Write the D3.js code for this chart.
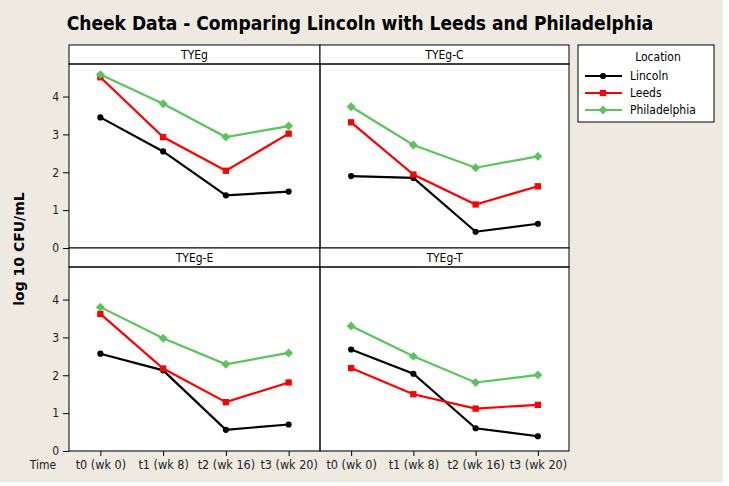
<!DOCTYPE html>
<html><head><meta charset="utf-8">
<script src="https://cdn.jsdelivr.net/npm/d3@7"></script>
<style>body{margin:0;background:#fff}svg{display:block}</style>
</head><body>
<svg id="chart" width="729" height="486"></svg>
<script>
const times = ["t0 (wk 0)", "t1 (wk 8)", "t2 (wk 16)", "t3 (wk 20)"];
const panels = ["TYEg", "TYEg-C", "TYEg-E", "TYEg-T"];
const locations = ["Lincoln", "Leeds", "Philadelphia"];
const colors = ["#000000", "#ff0000", "#5cc45c"];
const yTicks = [0, 1, 2, 3, 4];
// values per panel, per location, per time
const lincoln = [[3.45, 2.55, 1.39, 1.49], [1.90, 1.85, 0.43, 0.64], [2.57, 2.13, 0.56, 0.70], [2.68, 2.04, 0.60, 0.39]];
const leeds = [[4.51, 2.93, 2.04, 3.02], [3.32, 1.94, 1.15, 1.63], [3.62, 2.18, 1.29, 1.81], [2.19, 1.50, 1.12, 1.22]];
const philadelphia = [[4.58, 3.81, 2.93, 3.22], [3.73, 2.72, 2.12, 2.42], [3.80, 2.98, 2.29, 2.59], [3.30, 2.50, 1.81, 2.01]];
const seriesData = [lincoln, leeds, philadelphia];

const svg = d3.select("#chart");
const font = "Tahoma, 'DejaVu Sans Condensed', 'Liberation Sans', sans-serif";
svg.append("rect").attr("x", 0).attr("y", 0).attr("width", 723).attr("height", 482).attr("fill", "#eeeae1");

svg.append("text").attr("x", 360).attr("y", 30).attr("text-anchor", "middle")
  .attr("font-family", "'DejaVu Sans Condensed', 'Liberation Sans Narrow', sans-serif").attr("font-weight", "bold")
  .attr("font-size", 19).attr("fill", "#000").text("Cheek Data - Comparing Lincoln with Leeds and Philadelphia");

const colX = [69, 320];
const rowTop = [45, 248], stripH = 19, rowH = 184;
svg.append("rect").attr("x", 69).attr("y", 45).attr("width", 500).attr("height", 405).attr("fill", "#fff");

const x0 = d3.scalePoint().domain(times).padding(0.5);
const y = d3.scaleLinear().domain([0, 4.86]);

const markers = [d3.symbolCircle, d3.symbolSquare, d3.symbolSquare];
const mrot = [0, 0, 45];
const msize = [30, 40, 40];

function marker(sel, k) {
  sel.attr("d", d3.symbol().type(markers[k]).size(msize[k])).attr("fill", colors[k]);
}

panels.forEach((p, i) => {
  const c = i % 2, r = Math.floor(i / 2);
  const px = colX[c], py = rowTop[r];
  const w = c === 0 ? 251 : 249;
  const g = svg.append("g");
  const x = x0.copy().range([px, px + w]);
  const yy = y.copy().range([py + stripH + rowH, py + stripH]);
  g.append("rect").attr("x", px).attr("y", py).attr("width", w).attr("height", stripH)
    .attr("fill", "#fff").attr("stroke", "#000").attr("stroke-width", 1);
  g.append("text").attr("x", px + w / 2).attr("y", py + 14).attr("text-anchor", "middle")
    .attr("font-family", font).attr("font-size", 12).text(p);
  g.append("rect").attr("x", px).attr("y", py + stripH).attr("width", w).attr("height", rowH)
    .attr("fill", "none").attr("stroke", "#000").attr("stroke-width", 1);
  if (c === 0) {
    const ax = g.append("g").attr("transform", `translate(${px},0)`)
      .call(d3.axisLeft(yy).tickValues(yTicks).tickSize(6).tickPadding(4).tickFormat(d3.format("d")));
    ax.select(".domain").remove();
    ax.selectAll("text").attr("font-family", font).attr("font-size", 12).attr("fill", "#222");
  }
  if (r === 1) {
    const ax = g.append("g").attr("transform", `translate(0,${py + stripH + rowH})`)
      .call(d3.axisBottom(x).tickSize(5).tickPadding(4));
    ax.select(".domain").remove();
    ax.selectAll("text").attr("font-family", font).attr("font-size", 12.5).attr("fill", "#222");
  }
  seriesData.forEach((sd, k) => {
    const vals = sd[i];
    const line = d3.line().x((d, j) => x(times[j])).y(d => yy(d));
    g.append("path").attr("d", line(vals)).attr("fill", "none").attr("stroke", colors[k]).attr("stroke-width", 2.2);
    g.selectAll(null).data(vals).enter().append("path")
      .attr("transform", (d, j) => `translate(${x(times[j])},${yy(d)}) rotate(${mrot[k]})`)
      .call(marker, k);
  });
});

svg.append("text").attr("x", 43).attr("y", 469).attr("text-anchor", "middle")
  .attr("font-family", font).attr("font-size", 12).attr("fill", "#222").text("Time");
svg.append("text").attr("transform", "translate(24,249) rotate(-90)").attr("text-anchor", "middle")
  .attr("font-family", "'DejaVu Sans', sans-serif").attr("font-weight", "bold").attr("font-size", 14).text("log 10 CFU/mL");

// legend
const lg = svg.append("g");
lg.append("rect").attr("x", 578).attr("y", 45).attr("width", 136).attr("height", 77)
  .attr("fill", "#fff").attr("stroke", "#000").attr("stroke-width", 1);
lg.append("text").attr("x", 658).attr("y", 61).attr("text-anchor", "middle")
  .attr("font-family", font).attr("font-size", 12).text("Location");
locations.forEach((l, k) => {
  const ly = 76 + k * 17;
  lg.append("line").attr("x1", 585).attr("x2", 622).attr("y1", ly).attr("y2", ly).attr("stroke", colors[k]).attr("stroke-width", 2.2);
  lg.append("path").attr("transform", `translate(603,${ly}) rotate(${mrot[k]})`).call(marker, k);
  lg.append("text").attr("x", 630).attr("y", ly + 4).attr("font-family", font).attr("font-size", 12).text(l);
});
</script>
</body></html>
